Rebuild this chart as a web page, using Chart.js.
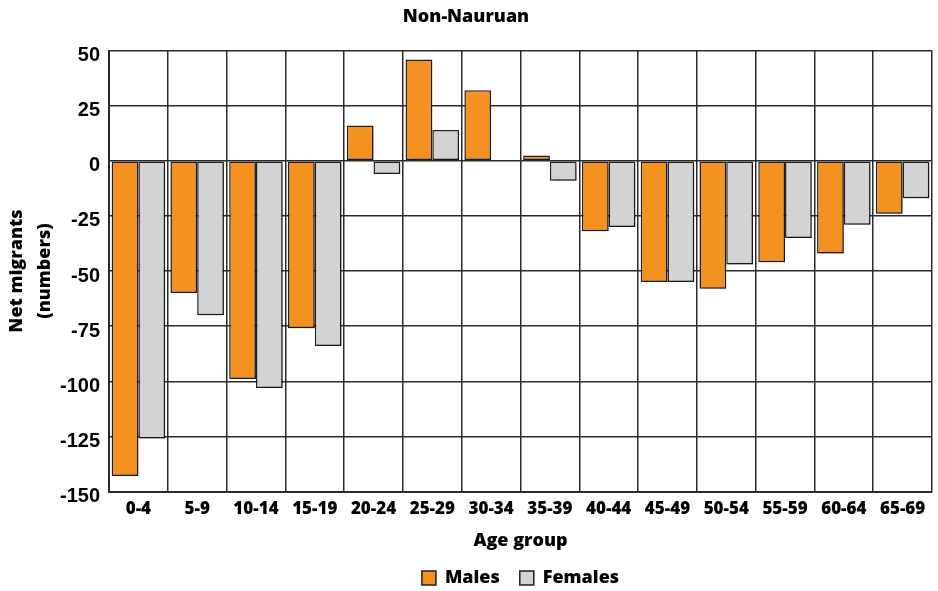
<!DOCTYPE html>
<html>
<head>
<meta charset="utf-8">
<script src="https://cdn.jsdelivr.net/npm/chart.js@4/dist/chart.umd.min.js"></script>
<style>
  html, body { margin: 0; padding: 0; background: #fff; }
  #wrap { width: 938px; height: 591px; }
</style>
</head>
<body>
<div id="wrap"><canvas id="chart" width="938" height="591"></canvas></div>
<script>
// Age groups and net migrants
const ageGroups = ['0-4', '5-9', '10-14', '15-19', '20-24', '25-29', '30-34',
                   '35-39', '40-44', '45-49', '50-54', '55-59', '60-64', '65-69'];
const males   = [-143, -60, -99, -76, 16, 46, 32, 2.4, -32, -55, -58, -46, -42, -24];
const females = [-126, -70, -103, -84, -6, 14, 0, -9, -30, -55, -47, -35, -29, -17];
const yMin = -150;
const yMax = 50;
const yStep = 25;

const colors = {
    males: '#F39221',
    females: '#D1D3D4',
    border: '#231F20',
    grid: '#2A2A2A'
};

const heavy = '800';

// Sombra ligera detras de las barras
const barShadow = {
    id: 'barShadow',
    beforeDatasetsDraw(chart) {
        const ctx = chart.ctx;
        ctx.save();
        ctx.shadowColor = 'rgba(0, 0, 0, 0.28)';
        ctx.shadowOffsetX = 2;
        ctx.shadowOffsetY = 2;
        ctx.shadowBlur = 1;
    },
    afterDatasetsDraw(chart) {
        chart.ctx.restore();
    }
};

new Chart(document.getElementById('chart'), {
    type: 'bar',
    data: {
        labels: ageGroups,
        datasets: [{
            label: 'Males',
            data: males,
            backgroundColor: colors.males,
            borderColor: colors.border,
            borderWidth: 1.5,
            borderSkipped: false
        }, {
            label: 'Females',
            data: females,
            backgroundColor: colors.females,
            borderColor: colors.border,
            borderWidth: 1.5,
            borderSkipped: false
        }]
    },
    options: {
        responsive: false,
        animation: false,
        layout: { padding: { left: 0, right: 6, top: 0, bottom: -6 } },
        datasets: {
            bar: { categoryPercentage: 0.91, barPercentage: 1.0 }
        },
        plugins: {
            title: {
                display: true,
                text: 'Non-Nauruan',
                color: '#000',
                font: { family: 'Open Sans', size: 18, weight: heavy },
                padding: { top: 6, bottom: 23 }
            },
            legend: {
                position: 'bottom',
                fullSize: false,
                labels: {
                    color: '#000',
                    font: { family: 'Open Sans', size: 18, weight: heavy },
                    boxWidth: 14,
                    boxHeight: 14,
                    padding: 20
                }
            },
            tooltip: { enabled: false }
        },
        scales: {
            x: {
                grid: { color: colors.grid, lineWidth: 1.5, drawTicks: false },
                border: { color: colors.grid, width: 2 },
                ticks: {
                    color: '#000',
                    padding: 7,
                    maxRotation: 0,
                    autoSkip: false,
                    font: { family: 'Open Sans', size: 17, weight: heavy }
                },
                title: {
                    display: true,
                    text: 'Age group',
                    color: '#000',
                    font: { family: 'Open Sans', size: 18, weight: heavy, lineHeight: 0.9 },
                    padding: { top: 0, bottom: 0 }
                },
                afterFit: (scale) => { scale.height = 57.5; }
            },
            y: {
                min: yMin,
                max: yMax,
                grid: { color: colors.grid, lineWidth: 1.5, drawTicks: false },
                border: { color: colors.grid, width: 2 },
                ticks: {
                    stepSize: yStep,
                    color: '#000',
                    padding: 9,
                    labelOffset: 5,
                    font: { family: 'Liberation Sans', size: 20, weight: 'bold' }
                },
                title: {
                    display: true,
                    text: ['Net migrants', '(numbers)'],
                    color: '#000',
                    font: { family: 'Open Sans', size: 18, weight: heavy, lineHeight: 1.55 },
                    padding: { top: 3, bottom: 0 }
                },
                afterFit: (scale) => { scale.width = 109; }
            }
        }
    },
    plugins: [barShadow]
});
</script>
</body>
</html>
